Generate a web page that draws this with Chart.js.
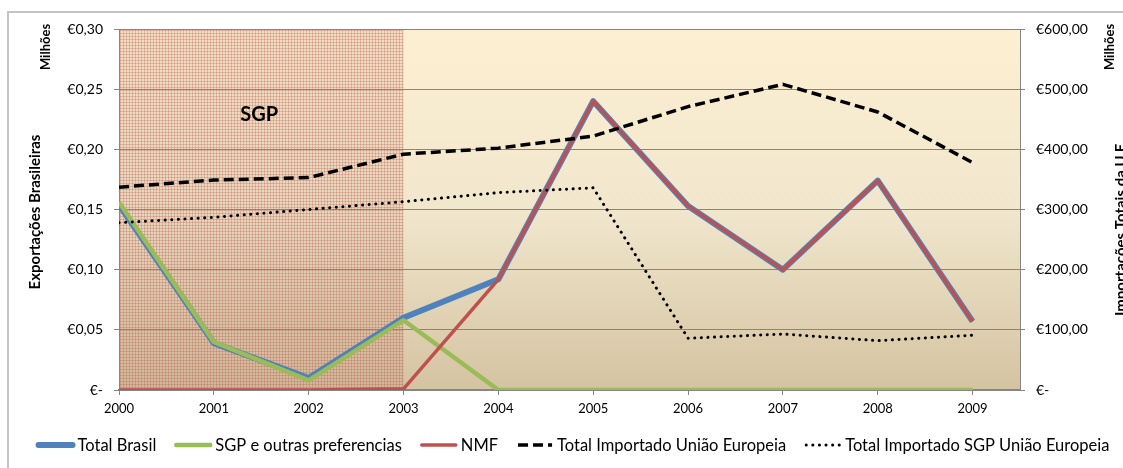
<!DOCTYPE html>
<html>
<head>
<meta charset="utf-8">
<script src="https://cdn.jsdelivr.net/npm/chart.js@4/dist/chart.umd.min.js"></script>
<style>
  html, body { margin: 0; padding: 0; background: #ffffff; }
  #wrap { width: 1123px; height: 468px; position: relative; }
</style>
</head>
<body>
<div id="wrap"><canvas id="chart" width="1123" height="468"></canvas></div>
<script>
// anos e séries (milhões de euros)
const years = [2000, 2001, 2002, 2003, 2004, 2005, 2006, 2007, 2008, 2009]
const totalBrasil = [0.154, 0.039, 0.010, 0.060, 0.092, 0.240, 0.153, 0.100, 0.174, 0.057]
const sgpPreferencias = [0.156, 0.040, 0.008, 0.058, 0, 0, 0, 0, 0, 0]
const nmf = [0, 0, 0, 0.001, 0.092, 0.240, 0.153, 0.100, 0.174, 0.057]
const totalImportadoUE = [337, 349, 353, 392, 402, 422, 471, 508, 462, 378]
const totalImportadoSGP = [278, 287, 300, 313, 328, 336, 86, 93, 82, 91]

// rótulos dos eixos
const leftTickLabels = ['€-', '€0,05', '€0,10', '€0,15', '€0,20', '€0,25', '€0,30']
const rightTickLabels = ['€-', '€100,00', '€200,00', '€300,00', '€400,00', '€500,00', '€600,00']

// período do SGP destacado
const sgpStart = 2000
const sgpEnd = 2003

const FONT = 'Lato, "Open Sans", sans-serif'
const GRID = '#868686'

const toPoints = (vals) => vals.map((v, i) => ({ x: years[i], y: v }))

// padrão quadriculado da área SGP
function makePattern(ctx) {
  const tile = document.createElement('canvas')
  tile.width = 3
  tile.height = 3
  const t = tile.getContext('2d')
  t.fillStyle = 'rgba(185, 110, 90, 0.14)'
  t.fillRect(0, 0, 3, 3)
  t.fillStyle = 'rgba(180, 85, 75, 0.27)'
  t.fillRect(0, 0, 3, 1)
  t.fillRect(0, 0, 1, 3)
  return ctx.createPattern(tile, 'repeat')
}

const backdrop = {
  id: 'backdrop',
  beforeDraw(chart) {
    const { ctx, chartArea: a, scales } = chart
    ctx.save()
    // moldura externa
    ctx.strokeStyle = '#c4c4c4'
    ctx.lineWidth = 2
    ctx.beginPath()
    ctx.moveTo(8, 468)
    ctx.lineTo(8, 12)
    ctx.lineTo(1123, 12)
    ctx.stroke()

    // fundo em degradê da área de plotagem
    const g = ctx.createLinearGradient(0, a.top, 0, a.bottom)
    g.addColorStop(0, '#fdefd2')
    g.addColorStop(0.5, '#f1e7cd')
    g.addColorStop(1, '#d4c3a1')
    ctx.fillStyle = g
    ctx.fillRect(a.left, a.top, a.right - a.left, a.bottom - a.top)

    // faixa SGP
    const x0 = scales.x.getPixelForValue(sgpStart)
    const x1 = scales.x.getPixelForValue(sgpEnd)
    ctx.fillStyle = makePattern(ctx)
    ctx.fillRect(x0, a.top, x1 - x0, a.bottom - a.top)
    ctx.restore()
  },
  afterDraw(chart) {
    const { ctx, scales } = chart
    ctx.save()
    ctx.fillStyle = '#000'
    ctx.textAlign = 'center'
    ctx.textBaseline = 'middle'

    const vtext = (txt, x, y, font) => {
      ctx.save()
      ctx.translate(x, y)
      ctx.rotate(-Math.PI / 2)
      ctx.font = font
      ctx.fillText(txt, 0, 0)
      ctx.restore()
    }
    vtext('Milhões', 46, 47, 'bold 13px ' + FONT)
    vtext('Exportações Brasileiras', 35, 212, 'bold 15px ' + FONT)
    vtext('Milhões', 1110, 47, 'bold 13px ' + FONT)
    vtext('Importações Totais da U.E.', 1121, 228, 'bold 15px ' + FONT)

    // rótulo da faixa SGP
    const xs = (scales.x.getPixelForValue(sgpStart) + scales.x.getPixelForValue(sgpEnd)) / 2
    ctx.font = 'bold 20px ' + FONT
    ctx.fillText('SGP', xs - 2, scales.y.getPixelForValue(0.229))

    // legenda
    ctx.font = '16.5px ' + FONT
    ctx.textAlign = 'left'
    const sample = 38
    const gapText = 3
    const gapItem = 18
    const items = chart.data.datasets
    let total = 0
    items.forEach(ds => { total += sample + gapText + ctx.measureText(ds.label).width })
    total += gapItem * (items.length - 1)
    let x = 573 - total / 2
    const ly = 445
    items.forEach(ds => {
      ctx.save()
      ctx.strokeStyle = ds.borderColor
      ctx.lineWidth = ds.borderWidth
      ctx.lineCap = ds.borderCapStyle || 'round'
      ctx.setLineDash(ds.borderDash || [])
      ctx.beginPath()
      ctx.moveTo(x + 2, ly)
      ctx.lineTo(x + sample - 2, ly)
      ctx.stroke()
      ctx.restore()
      x += sample + gapText
      ctx.fillText(ds.label, x, ly + 1)
      x += ctx.measureText(ds.label).width + gapItem
    })
    ctx.restore()
  }
}

const ctx = document.getElementById('chart').getContext('2d')

new Chart(ctx, {
  type: 'line',
  data: {
    datasets: [{
      label: 'Total Brasil',
      data: toPoints(totalBrasil),
      borderColor: '#4f81bd',
      borderWidth: 6,
      yAxisID: 'y',
      order: 5
    }, {
      label: 'SGP e outras preferencias',
      data: toPoints(sgpPreferencias),
      borderColor: '#9bbb59',
      borderWidth: 4.5,
      yAxisID: 'y',
      order: 3
    }, {
      label: 'NMF',
      data: toPoints(nmf),
      borderColor: '#c0504d',
      borderWidth: 3.5,
      yAxisID: 'y',
      order: 2
    }, {
      label: 'Total Importado União Europeia',
      data: toPoints(totalImportadoUE),
      borderColor: '#000000',
      borderWidth: 3.5,
      borderDash: [10, 5],
      borderCapStyle: 'butt',
      yAxisID: 'y1',
      order: 1
    }, {
      label: 'Total Importado SGP União Europeia',
      data: toPoints(totalImportadoSGP),
      borderColor: '#000000',
      borderWidth: 3,
      borderDash: [0.1, 6.5],
      borderCapStyle: 'round',
      yAxisID: 'y1',
      order: 0
    }]
  },
  options: {
    responsive: false,
    animation: false,
    layout: { padding: { top: 29, left: 0, right: 0, bottom: 48 } },
    elements: {
      point: { radius: 0, hoverRadius: 0 },
      line: { tension: 0, borderJoinStyle: 'round', fill: false }
    },
    scales: {
      x: {
        type: 'linear',
        min: 2000,
        max: 2009.5,
        afterBuildTicks: (s) => { s.ticks = years.map(v => ({ value: v })) },
        afterFit: (s) => { s.height = 30 },
        ticks: {
          color: '#000',
          font: { family: FONT, size: 13 },
          padding: 6,
          maxRotation: 0,
          autoSkip: false,
          callback: (v) => String(v)
        },
        grid: { drawOnChartArea: false, drawTicks: true, tickLength: 5, color: GRID },
        border: { display: true, color: GRID, width: 2 }
      },
      y: {
        position: 'left',
        min: 0,
        max: 0.3,
        afterFit: (s) => { s.width = 119 },
        ticks: {
          stepSize: 0.05,
          color: '#000',
          font: { family: FONT, size: 14 },
          padding: 11,
          callback: (v) => leftTickLabels[Math.round(v / 0.05)]
        },
        grid: { color: GRID, lineWidth: 1, tickLength: 5 },
        border: { display: true, color: GRID }
      },
      y1: {
        position: 'right',
        min: 0,
        max: 600,
        afterFit: (s) => { s.width = 103 },
        ticks: {
          stepSize: 100,
          color: '#000',
          font: { family: FONT, size: 14 },
          padding: 11,
          callback: (v) => rightTickLabels[Math.round(v / 100)]
        },
        grid: { drawOnChartArea: false, color: GRID, tickLength: 5 },
        border: { display: true, color: GRID }
      }
    },
    plugins: {
      legend: { display: false },
      tooltip: { enabled: false }
    }
  },
  plugins: [backdrop]
})
</script>
</body>
</html>
